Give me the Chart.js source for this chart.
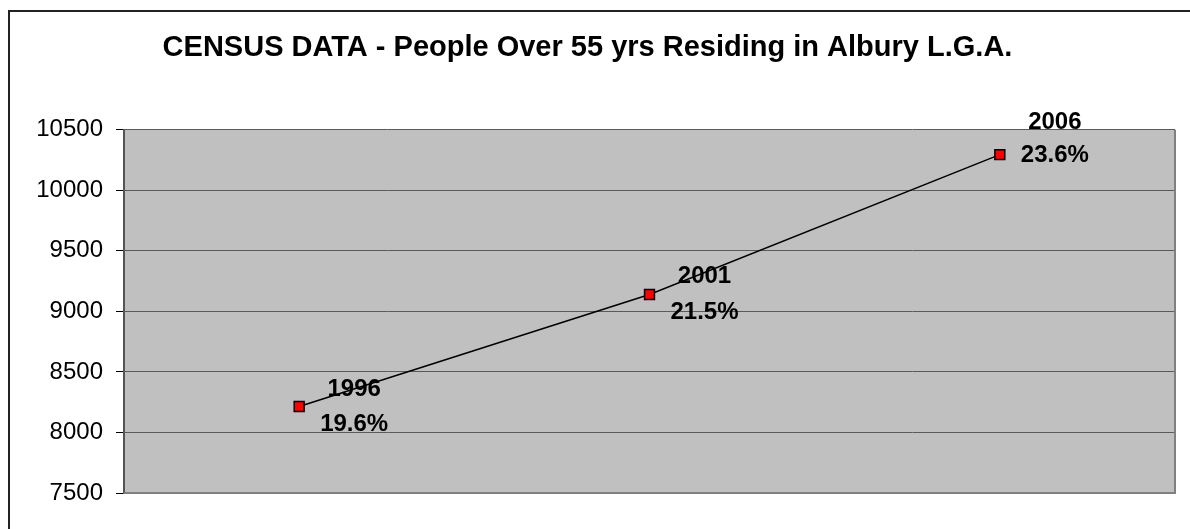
<!DOCTYPE html>
<html>
<head>
<meta charset="utf-8">
<title>Census data Albury</title>
<script src="https://cdn.jsdelivr.net/npm/chart.js@4.4.1/dist/chart.umd.min.js"></script>
<style>
  html, body { margin: 0; padding: 0; background: #fff; overflow: hidden; }
  .c-wrap { position: relative; width: 1190px; height: 529px; }
  .c-frame { position: absolute; left: 8px; top: 10px; width: 1200px; height: 600px; border: 2px solid #222; box-sizing: border-box; }
  canvas { position: absolute; left: 0; top: 0; }
</style>
</head>
<body>
<div class="c-wrap">
  <div class="c-frame"></div>
  <canvas id="myChart" width="1190" height="529"></canvas>
</div>
<script>
'use strict';

const titel = 'CENSUS DATA - People Over 55 yrs Residing in Albury L.G.A.';
const jaren = ['1996', '2001', '2006'];
const personen = [8215, 9140, 10295];
const percentages = ['19.6%', '21.5%', '23.6%'];

// plaats van de labels t.o.v. het punt (jaar, percentage)
const labelOffsets = [
  { dx: 55, y1: -17, y2: 18 },
  { dx: 55, y1: -18, y2: 18 },
  { dx: 55, y1: -32, y2: 1 }
];

const plotAchtergrond = {
  id: 'plotAchtergrond',
  beforeDraw: function(chart) {
    const ctx = chart.ctx;
    const a = chart.chartArea;
    ctx.save();
    ctx.fillStyle = '#c0c0c0';
    ctx.fillRect(a.left, a.top, a.right - a.left, a.bottom - a.top);
    ctx.restore();
  },
  afterDraw: function(chart) {
    const ctx = chart.ctx;
    const a = chart.chartArea;
    ctx.save();
    ctx.strokeStyle = '#808080';
    ctx.lineWidth = 2;
    ctx.beginPath();
    ctx.moveTo(a.right, a.top);
    ctx.lineTo(a.right, a.bottom);
    ctx.lineTo(a.left, a.bottom);
    ctx.stroke();
    ctx.restore();
  }
};

const dataLabels = {
  id: 'dataLabels',
  afterDatasetsDraw: function(chart) {
    const ctx = chart.ctx;
    const meta = chart.getDatasetMeta(0);
    ctx.save();
    ctx.font = 'bold 24px "Liberation Sans", Arial, sans-serif';
    ctx.fillStyle = '#000';
    ctx.textAlign = 'center';
    ctx.textBaseline = 'middle';
    meta.data.forEach(function(punt, i) {
      const o = labelOffsets[i];
      ctx.fillText(jaren[i], punt.x + o.dx, punt.y + o.y1);
      ctx.fillText(percentages[i], punt.x + o.dx, punt.y + o.y2);
    });
    ctx.restore();
  }
};

const displayChart = function() {
  const ctx = document.getElementById('myChart');
  const myChart = new Chart(ctx, {
    type: 'line',
    data: {
      labels: jaren,
      datasets: [
        {
          label: 'Personen ouder dan 55',
          data: personen,
          borderColor: '#000',
          borderWidth: 1.5,
          pointStyle: 'rect',
          pointRadius: 7,
          pointBackgroundColor: '#ff0000',
          pointBorderColor: '#000',
          pointBorderWidth: 1.5,
          tension: 0
        }
      ]
    },
    options: {
      responsive: false,
      animation: false,
      events: [],
      layout: { padding: { left: 0, right: 15, top: 0, bottom: 36 } },
      plugins: {
        legend: { display: false },
        tooltip: { enabled: false },
        title: {
          display: true,
          text: titel,
          color: '#000',
          font: { family: '"Liberation Sans", Arial, sans-serif', size: 29, weight: 'bold', lineHeight: 1.2 },
          padding: { top: 31, bottom: 64 }
        }
      },
      scales: {
        x: {
          display: false,
          offset: true
        },
        y: {
          min: 7500,
          max: 10500,
          afterFit: function(scale) {
            scale.width = 124;
          },
          ticks: {
            stepSize: 500,
            color: '#000',
            padding: 13,
            font: { family: '"Liberation Sans", Arial, sans-serif', size: 24 },
            callback: function(value) {
              return String(value);
            }
          },
          grid: {
            color: '#5a5a5a',
            lineWidth: 1,
            tickColor: '#000',
            tickLength: 8
          },
          border: { color: '#555', width: 2 }
        }
      }
    },
    plugins: [plotAchtergrond, dataLabels]
  });
};

document.addEventListener('DOMContentLoaded', function() {
  displayChart();
});
</script>
</body>
</html>
